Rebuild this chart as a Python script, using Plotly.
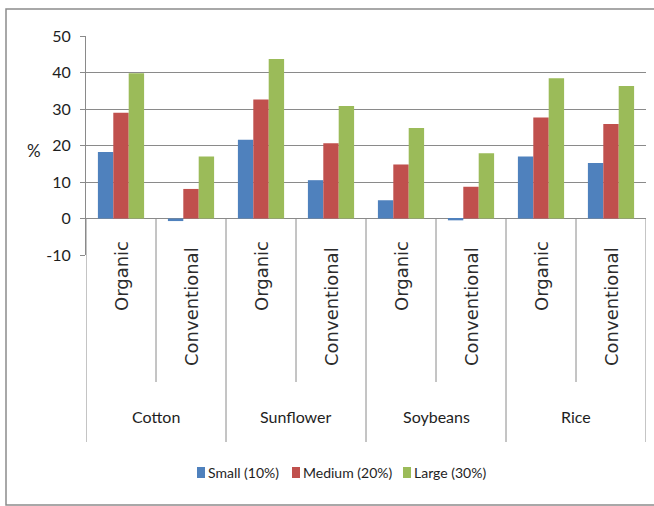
import plotly.graph_objects as go

# Categories: each crop has an organic and a conventional farming system
crops = ["Cotton", "Sunflower", "Soybeans", "Rice"]
systems = ["Organic", "Conventional"]

# Series values (%) in order: Cotton Org, Cotton Conv, Sunflower Org, Sunflower Conv,
# Soybeans Org, Soybeans Conv, Rice Org, Rice Conv
series_names = ["Small (10%)", "Medium (20%)", "Large (30%)"]
small_vals = [18.2, -0.7, 21.6, 10.5, 5.0, -0.5, 17.0, 15.2]
medium_vals = [29.0, 8.1, 32.6, 20.6, 14.8, 8.7, 27.7, 25.9]
large_vals = [39.8, 17.0, 43.7, 30.8, 24.8, 17.9, 38.4, 36.3]
y_ticks = [-10, 0, 10, 20, 30, 40, 50]
y_tick_labels = ["-10", "0", "10", "20", "30", "40", "50"]
y_title = "%"

colors = ["#4F81BD", "#C0504D", "#9BBB59"]

W, H = 654, 506
PL, PR, PT, PB = 86, 646, 36, 255  # plot area in pixels


def px_x(px):
    return (px - PL) / (PR - PL)


def px_y(py):
    return (PB - py) / (PB - PT)


LABEL_FONT = "Lato, sans-serif"
ROT_FONT = "DejaVu Sans, Verdana, sans-serif"
TEXT_COLOR = "#1e1e1e"
GRID = "#8a8a8a"

n = len(crops) * len(systems)
xpos = list(range(n))

fig = go.Figure()
for name, vals, col in zip(series_names, [small_vals, medium_vals, large_vals], colors):
    fig.add_trace(go.Bar(x=xpos, y=vals, name=name, marker=dict(color=col, line=dict(width=0)),
                         showlegend=False))

shapes = []
annotations = []

# category dividers below the zero line
zero_paper = px_y(218)
for k in range(len(crops)):
    shapes.append(dict(type="line", xref="x", yref="paper", x0=2 * k + 0.5, x1=2 * k + 0.5,
                       y0=zero_paper, y1=px_y(382), line=dict(color=GRID, width=1)))
for k in range(len(crops) + 1):
    shapes.append(dict(type="line", xref="x", yref="paper", x0=2 * k - 0.5, x1=2 * k - 0.5,
                       y0=zero_paper, y1=px_y(442), line=dict(color=GRID, width=1)))

# rotated system labels and crop labels
rot_center = {"Organic": 276, "Conventional": 307}
for k, crop in enumerate(crops):
    for j, sysname in enumerate(systems):
        annotations.append(dict(x=2 * k + j, y=px_y(rot_center[sysname]), xref="x", yref="paper",
                                text=sysname, textangle=-90, showarrow=False,
                                xanchor="center", yanchor="middle",
                                font=dict(family=ROT_FONT, size=18, color="#2c2c2c")))
    annotations.append(dict(x=2 * k + 0.5, y=px_y(417), xref="x", yref="paper", text=crop,
                            showarrow=False, xanchor="center", yanchor="middle",
                            font=dict(family=LABEL_FONT, size=16, color=TEXT_COLOR)))

# y-axis title
annotations.append(dict(x=px_x(34), y=px_y(150), xref="paper", yref="paper", text=y_title,
                        showarrow=False, xanchor="center", yanchor="middle",
                        font=dict(family=LABEL_FONT, size=17, color=TEXT_COLOR)))

# legend: colour squares followed by series names
legend_sq = [197, 292, 403]
for name, col, sx in zip(series_names, colors, legend_sq):
    shapes.append(dict(type="rect", xref="paper", yref="paper", x0=px_x(sx), x1=px_x(sx + 8),
                       y0=px_y(467), y1=px_y(478), fillcolor=col, line=dict(width=0)))
    annotations.append(dict(x=px_x(sx + 9), y=px_y(473), xref="paper", yref="paper", text=name,
                            showarrow=False, xanchor="left", yanchor="middle",
                            font=dict(family=LABEL_FONT, size=14, color=TEXT_COLOR)))

# outer chart border
shapes.append(dict(type="rect", xref="paper", yref="paper", x0=px_x(6), x1=px_x(662),
                   y0=px_y(505), y1=px_y(9), line=dict(color="#8c8c8c", width=1.5),
                   fillcolor="rgba(0,0,0,0)", layer="below"))

fig.update_layout(
    width=W, height=H,
    margin=dict(l=PL, r=W - PR, t=PT, b=H - PB, pad=0),
    paper_bgcolor="white", plot_bgcolor="white",
    barmode="group", bargap=0.34, bargroupgap=0,
    xaxis=dict(range=[-0.5, n - 0.5], showticklabels=False, ticks="", showgrid=False,
               zeroline=False, showline=False, fixedrange=True),
    yaxis=dict(range=[-10, 50], tickvals=y_ticks, ticktext=y_tick_labels, ticks="outside",
               ticklen=5, tickcolor=GRID,
               showgrid=True, gridcolor=GRID, gridwidth=1, zeroline=True, zerolinecolor=GRID,
               zerolinewidth=1, showline=True, linecolor=GRID, linewidth=1,
               tickfont=dict(family=LABEL_FONT, size=16, color=TEXT_COLOR),
               ticklabelstandoff=6, fixedrange=True),
    shapes=shapes,
    annotations=annotations,
    showlegend=False,
)

fig.write_html("out.html")
